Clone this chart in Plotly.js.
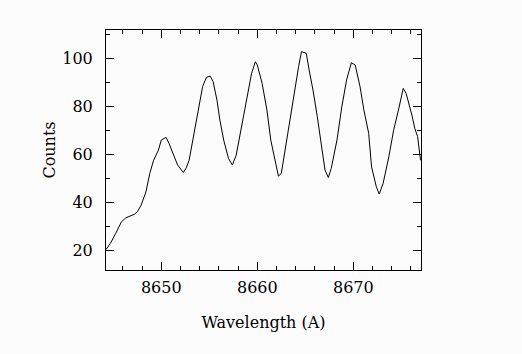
<!DOCTYPE html>
<html>
<head>
<meta charset="utf-8">
<script src="https://cdn.plot.ly/plotly-3.0.1.min.js"></script>
<style>html,body{margin:0;padding:0;background:#fcfcfc;}</style>
</head>
<body>
<div id="chart" style="width:522px;height:354px;"></div>
<script>
const wavelength = [8644.24,8644.7,8645.25,8645.84,8646.3,8647.2,8647.5,8647.9,8648.4,8648.8,8649.2,8649.7,8650.0,8650.5,8650.8,8651.2,8651.7,8652.3,8652.6,8652.9,8653.3,8653.6,8654.0,8654.3,8654.7,8655.1,8655.4,8655.8,8656.1,8656.5,8657.0,8657.4,8657.8,8658.3,8658.9,8659.4,8659.8,8660.0,8660.5,8661.0,8661.4,8661.9,8662.2,8662.5,8662.9,8663.3,8663.8,8664.3,8664.6,8665.1,8665.4,8665.8,8666.25,8666.7,8667.05,8667.4,8667.7,8668.3,8668.8,8669.3,8669.8,8670.2,8670.7,8671.1,8671.6,8671.9,8672.4,8672.7,8673.1,8673.7,8674.2,8674.7,8675.2,8675.5,8675.8,8676.1,8676.4,8676.7,8677.0];
const counts = [20.4,23.0,27.1,31.9,33.6,35.1,36.1,38.9,44.4,52.1,57.6,61.8,66.0,67.1,64.6,60.4,55.6,52.5,54.4,57.6,66.0,73.6,81.3,88.2,92.1,92.6,90.3,82.6,74.3,66.0,58.3,55.6,59.7,70.1,82.6,93.7,98.6,97.2,89.6,78.5,66.0,56.3,51.0,52.1,61.8,72.9,85.4,96.5,102.8,102.1,95.1,86.8,75.7,63.2,53.5,50.4,54.2,66.0,79.8,91.0,98.2,97.2,88.2,78.5,68.8,54.8,46.5,43.5,47.9,59.0,70.1,78.5,87.5,85.4,81.3,76.4,70.9,67.4,57.6];
const xTitle = 'Wavelength (A)';
const yTitle = 'Counts';

const font = {family: 'DejaVu Serif', size: 16, color: '#000'};
const axisCommon = {
  showgrid: false, zeroline: false, showline: true, linecolor: '#000', linewidth: 1,
  mirror: 'ticks', ticks: 'inside', ticklen: 8, tickwidth: 1, tickcolor: '#000',
  tickfont: font
};
const layout = {
  width: 522, height: 354,
  margin: {l: 106, r: 101, t: 30, b: 84},
  paper_bgcolor: '#fcfcfc', plot_bgcolor: '#fcfcfc',
  showlegend: false,
  font: font,
  xaxis: Object.assign({}, axisCommon, {
    range: [8644.24, 8677.05], dtick: 10, tick0: 8650,
    minor: {dtick: 2, ticklen: 4, ticks: 'inside', tickcolor: '#000', tickwidth: 1},
    ticklabelstandoff: 3,
    title: {text: xTitle, font: font, standoff: 20}
  }),
  yaxis: Object.assign({}, axisCommon, {
    range: [11.9, 111.8], dtick: 20, tick0: 0,
    minor: {dtick: 10, ticklen: 4, ticks: 'inside', tickcolor: '#000', tickwidth: 1},
    ticklabelstandoff: 9,
    title: {text: yTitle, font: font, standoff: 2}
  })
};
Plotly.newPlot('chart', [{
  x: wavelength, y: counts, type: 'scatter', mode: 'lines',
  line: {color: '#000', width: 1}
}], layout, {displayModeBar: false, staticPlot: true});
</script>
</body>
</html>
